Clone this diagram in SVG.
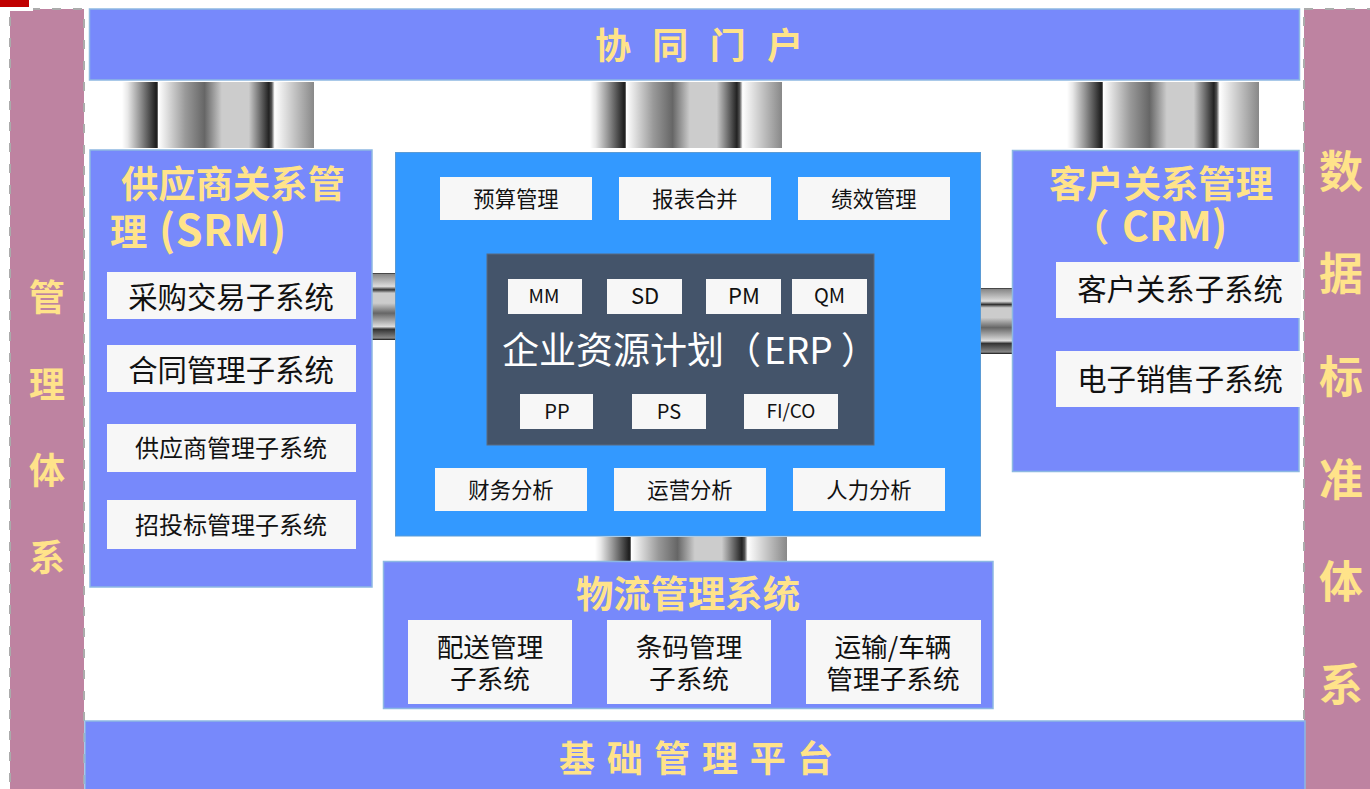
<svg xmlns="http://www.w3.org/2000/svg" width="1370" height="789" viewBox="0 0 1370 789">
<style>
text{font-family:"Noto Sans CJK SC","Noto Sans",sans-serif;text-anchor:middle}
.blue{fill:#7789FB;stroke:#8DB8E2;stroke-width:1.5}
.side{fill:#BE83A1;stroke:#ABABAB;stroke-width:2;stroke-dasharray:9 12}
.erp{fill:#3399FF;stroke:#5B9BD5;stroke-width:1}
.dark{fill:#44546A;stroke:#5B6B80;stroke-width:1}
.w{fill:#F7F7F7}
.y{fill:#FFE38A;font-weight:700}
.k{fill:#111}
.wt{fill:#fff}
.s{text-anchor:start}
</style>
<defs>
<linearGradient id="pv" x1="0" y1="0" x2="1" y2="0">
<stop offset="0" stop-color="#fff"/><stop offset=".03" stop-color="#e8e8e8"/><stop offset=".09" stop-color="#999"/><stop offset=".175" stop-color="#222"/><stop offset=".183" stop-color="#222"/><stop offset=".19" stop-color="#fff"/><stop offset=".33" stop-color="#999"/><stop offset=".43" stop-color="#666"/><stop offset=".52" stop-color="#ccc"/><stop offset=".66" stop-color="#ccc"/><stop offset=".765" stop-color="#222"/><stop offset=".78" stop-color="#555"/><stop offset=".795" stop-color="#fff"/><stop offset="1" stop-color="#888"/>
</linearGradient>
<linearGradient id="ph" x1="0" y1="0" x2="0" y2="1">
<stop offset="0" stop-color="#222"/><stop offset=".02" stop-color="#888"/><stop offset=".2" stop-color="#ddd"/><stop offset=".25" stop-color="#333"/><stop offset=".3" stop-color="#ccc"/><stop offset=".45" stop-color="#ccc"/><stop offset=".6" stop-color="#666"/><stop offset=".8" stop-color="#ddd"/><stop offset=".84" stop-color="#333"/><stop offset=".97" stop-color="#888"/><stop offset="1" stop-color="#111"/>
</linearGradient>
</defs>
<rect width="1370" height="789" fill="#fff"/>
<g id="connectors">
<rect x="122" y="82" width="192" height="66" fill="url(#pv)"/>
<rect x="590" y="82" width="192" height="66" fill="url(#pv)"/>
<rect x="1067" y="82" width="192" height="66" fill="url(#pv)"/>
<rect x="595" y="537" width="192" height="24" fill="url(#pv)"/>
<rect x="372" y="273" width="23" height="67" fill="url(#ph)"/>
<rect x="981" y="288" width="31" height="66" fill="url(#ph)"/>
</g>
<g id="mgmt"><rect class="side" x="10" y="9" width="74" height="785"/>
<g class="y" font-size="36"><text x="47" y="311">管</text><text x="47" y="398">理</text><text x="47" y="484">体</text><text x="47" y="571">系</text></g></g>
<rect x="0" y="0" width="33" height="11" fill="#fff"/>
<rect x="0" y="0" width="29" height="7" fill="#C00000"/>
<g id="data"><rect class="side" x="1304" y="9" width="74" height="785"/>
<g class="y" font-size="44"><text x="1341" y="188">数</text><text x="1341" y="290">据</text><text x="1341" y="393">标</text><text x="1341" y="496">准</text><text x="1341" y="598">体</text><text x="1341" y="701">系</text></g></g>
<g id="portal"><rect class="blue" x="89.500" y="9" width="1210" height="71"/>
<text class="y s" x="595" y="59" font-size="36" letter-spacing="6.600" xml:space="preserve">协 同 门 户</text></g>
<g id="srm"><rect class="blue" x="90" y="150" width="282" height="437"/>
<text class="y" x="233" y="198" font-size="37.330">供应商关系管</text>
<text class="y s" x="110" y="246" font-size="37.330">理 <tspan x="159" font-size="43" letter-spacing=".5">(SRM)</tspan></text>
<rect class="w" x="107" y="272" width="249" height="47"/><text class="k" x="231" y="308" font-size="29.400">采购交易子系统</text>
<rect class="w" x="107" y="345" width="249" height="47"/><text class="k" x="231" y="381" font-size="29.400">合同管理子系统</text>
<rect class="w" x="107" y="424" width="249" height="48"/><text class="k" x="231" y="457" font-size="24">供应商管理子系统</text>
<rect class="w" x="107" y="500" width="249" height="49"/><text class="k" x="231" y="534" font-size="24">招投标管理子系统</text></g>
<g id="erp-box"><rect class="erp" x="395.500" y="152.500" width="585" height="383.500"/>
<rect class="w" x="440" y="177" width="152" height="43"/><text class="k" x="516" y="207" font-size="21.330">预算管理</text>
<rect class="w" x="619" y="177" width="152" height="43"/><text class="k" x="695" y="207" font-size="21.330">报表合并</text>
<rect class="w" x="798" y="177" width="152" height="43"/><text class="k" x="874" y="207" font-size="21.330">绩效管理</text>
<rect class="w" x="435" y="468" width="152" height="43"/><text class="k" x="511" y="498" font-size="21.330">财务分析</text>
<rect class="w" x="614" y="468" width="152" height="43"/><text class="k" x="690" y="498" font-size="21.330">运营分析</text>
<rect class="w" x="793" y="468" width="152" height="43"/><text class="k" x="869" y="498" font-size="21.330">人力分析</text></g>
<g id="erp-core"><rect class="dark" x="487" y="254" width="387" height="191"/>
<rect class="w" x="508" y="279" width="74" height="35"/><text class="k" x="544" y="303" font-size="19">MM</text>
<rect class="w" x="607" y="279" width="75" height="35"/><text class="k" x="645" y="304" font-size="22">SD</text>
<rect class="w" x="706" y="279" width="75" height="35"/><text class="k" x="744" y="304" font-size="22">PM</text>
<rect class="w" x="792" y="279" width="75" height="35"/><text class="k" x="829.500" y="303" font-size="20">QM</text>
<text class="wt s" x="502" y="364" font-size="37" xml:space="preserve">企业资源计划（ <tspan x="764">ERP ）</tspan></text>
<rect class="w" x="520" y="394" width="73" height="35"/><text class="k" x="557" y="419" font-size="20">PP</text>
<rect class="w" x="632" y="394" width="74" height="35"/><text class="k" x="669" y="419" font-size="20">PS</text>
<rect class="w" x="744" y="394" width="94" height="35"/><text class="k" x="791" y="418" font-size="19">FI/CO</text></g>
<g id="crm"><rect class="blue" x="1012.500" y="150.500" width="286.500" height="321"/>
<text class="y" x="1161" y="198" font-size="37.330">客户关系管理</text>
<text class="y s" x="1072" y="241" font-size="37.330">（ <tspan x="1122" font-size="41">CRM)</tspan></text>
<rect class="w" x="1056" y="262" width="245" height="56"/><text class="k" x="1180" y="300" font-size="29.400">客户关系子系统</text>
<rect class="w" x="1056" y="351" width="245" height="56"/><text class="k" x="1180" y="390" font-size="29.400">电子销售子系统</text></g>
<g id="logistics"><rect class="blue" x="383.500" y="561.500" width="609.500" height="147"/>
<text class="y" x="688" y="608" font-size="37.330">物流管理系统</text>
<rect class="w" x="408" y="620" width="164" height="84"/><text class="k" x="490" y="657" font-size="26.670">配送管理</text><text class="k" x="490" y="689" font-size="26.670">子系统</text>
<rect class="w" x="607" y="620" width="164" height="84"/><text class="k" x="689" y="657" font-size="26.670">条码管理</text><text class="k" x="689" y="689" font-size="26.670">子系统</text>
<rect class="w" x="806" y="620" width="175" height="84"/><text class="k" x="893" y="657" font-size="26.670">运输/车辆</text><text class="k" x="893" y="689" font-size="26.670">管理子系统</text></g>
<g id="base"><rect class="blue" x="85" y="721" width="1220" height="72"/>
<text class="y s" x="559" y="772" font-size="36" letter-spacing="1.750" xml:space="preserve">基 础 管 理 平 台</text></g>
</svg>
